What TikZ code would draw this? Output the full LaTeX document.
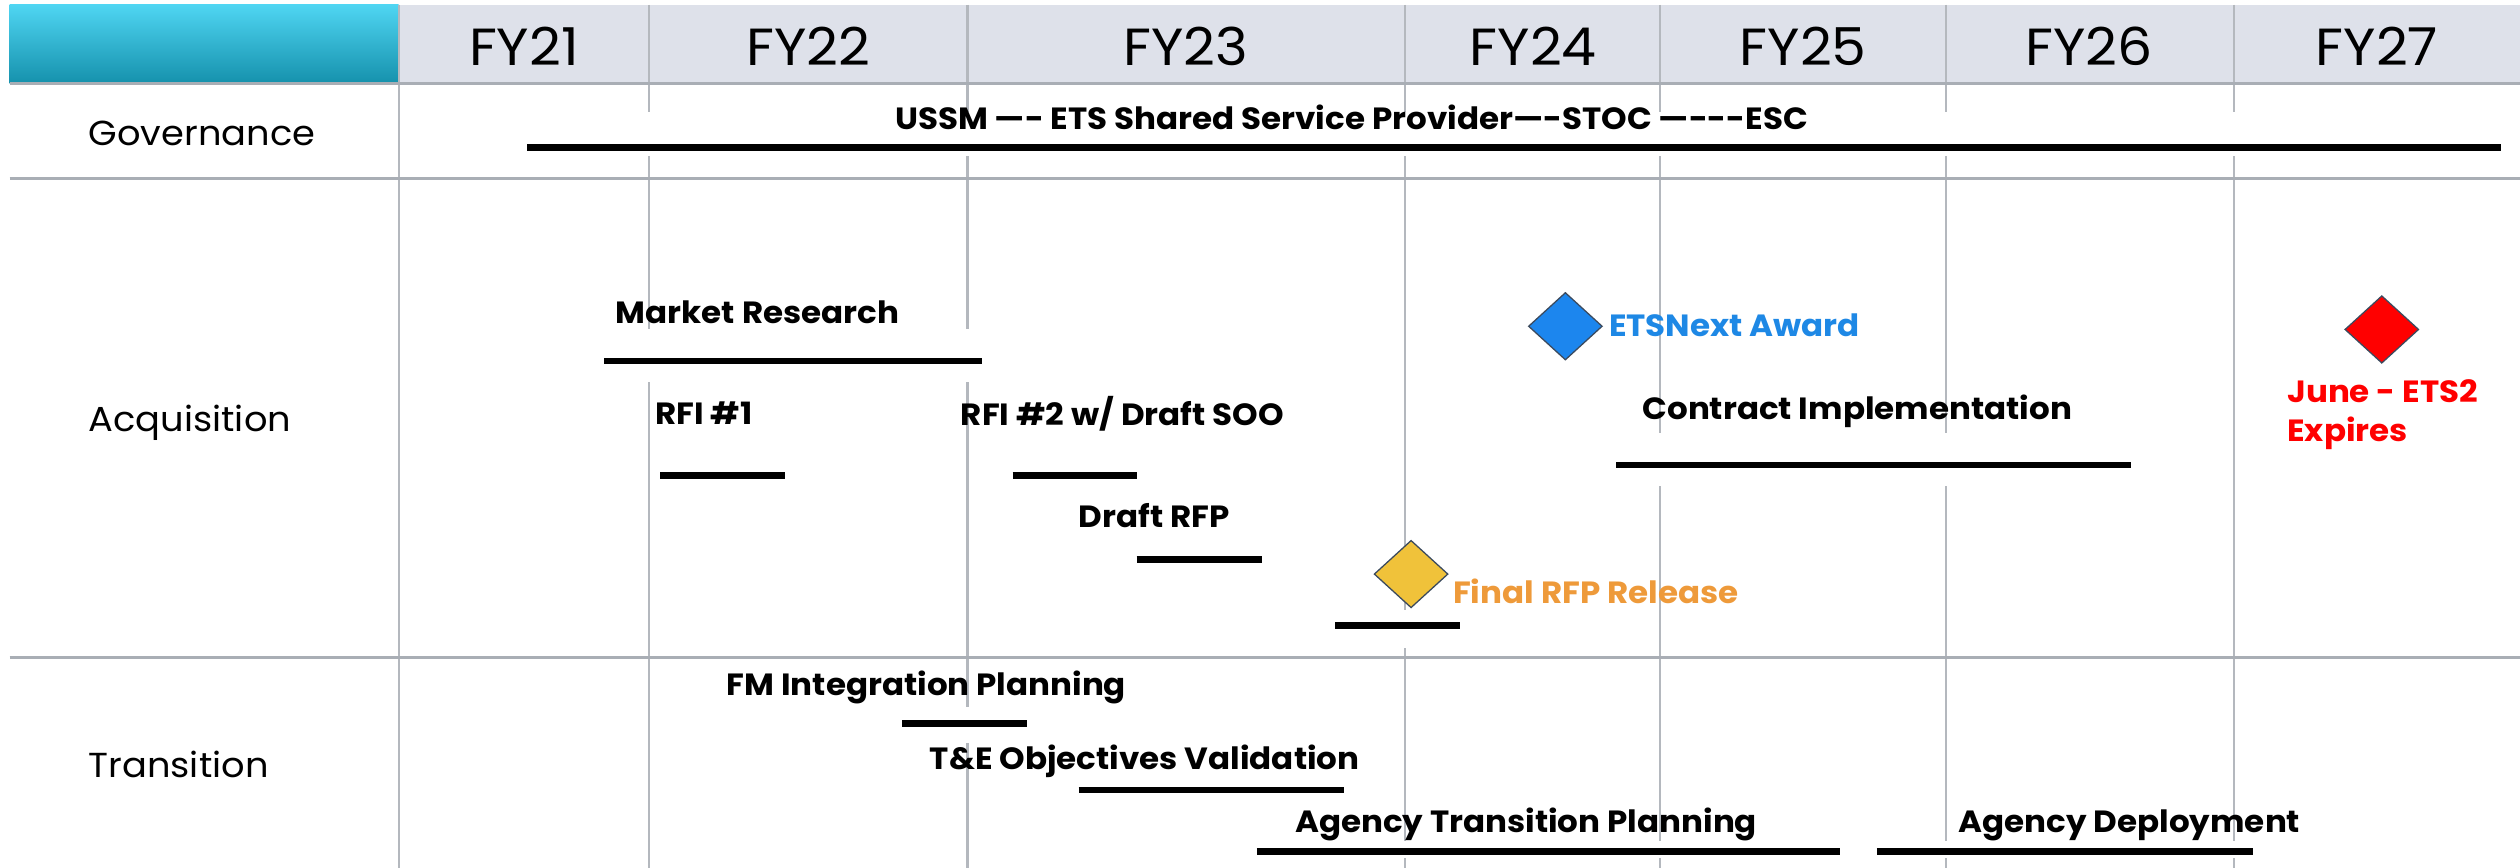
\documentclass[tikz,border=0pt]{standalone}
\usepackage{fontspec}
\setmainfont{Poppins}[FakeStretch=1.06]
\usetikzlibrary{shapes.geometric}
\definecolor{hdrgray}{HTML}{DEE1EA}
\definecolor{cyantop}{HTML}{4FD5F2}
\definecolor{cyanbot}{HTML}{1591AC}
\definecolor{gridc}{HTML}{B4B8BE}
\definecolor{sepc}{HTML}{A9AEB5}
\definecolor{awardblue}{HTML}{1E88E5}
\definecolor{diablue}{HTML}{1C86EE}
\definecolor{rfpyellow}{HTML}{F0C23A}
\definecolor{rfporange}{HTML}{EE9A3A}
\definecolor{expred}{HTML}{FF0000}
\definecolor{diaedge}{HTML}{3B4A5E}
\newcommand\ganttbar[6]{%
  \fill[white] (#2,#4-#5) rectangle (#3,#4+#6);
  \coordinate (#1-s) at (#2,#4);
  \coordinate (#1-e) at (#3,#4);
  \draw[barline] (#1-s) -- (#1-e);}
\begin{document}
\begin{tikzpicture}[x=1pt,y=-1pt,
  barline/.style={line width=4.2pt, black},
  gridline/.style={draw=gridc, line width=1.3pt},
  sepline/.style={draw=sepc, line width=2.2pt},
  fylbl/.style={anchor=base, inner sep=0, font=\fontsize{32.5}{38}\selectfont},
  rowlbl/.style={anchor=base west, inner sep=0, font=\fontsize{21.6}{26}\selectfont},
  lbl/.style={anchor=base west, inner sep=0, font=\bfseries\fontsize{19.1}{23}\selectfont},
  mstone/.style={diamond, draw=diaedge, line width=0.8pt, minimum width=46pt, minimum height=42pt, inner sep=0pt}]
\useasboundingbox (0,0) rectangle (1568,540);
\fill[white] (0,0) rectangle (1568,540);
% header
\fill[hdrgray] (248,3) rectangle (1568,52);
\shade[top color=cyantop, bottom color=cyanbot] (6,3) rectangle (248,52);
% vertical grid lines
\foreach \gx in {404,602,874,1033,1211,1390} {\draw[gridline] (\gx,3) -- (\gx,540);}
\draw[gridline] (248,3) -- (248,540);
% separators
\draw[sepline] (6,52) -- (1568,52);
\draw[sepline] (6,111) -- (1568,111);
\draw[sepline] (6,409) -- (1568,409);
% FY labels
\node[fylbl] (fy21) at (326,41) {FY21};
\node[fylbl] (fy22) at (503,41) {FY22};
\node[fylbl] (fy23) at (738,41) {FY23};
\node[fylbl] (fy24) at (954,41) {FY24};
\node[fylbl] (fy25) at (1122,41) {FY25};
\node[fylbl] (fy26) at (1300,41) {FY26};
\node[fylbl] (fy27) at (1479,41) {FY27};
% row labels
\node[rowlbl] (gov) at (55,90.5) {Governance};
\node[rowlbl] (acq) at (55,268.5) {Acquisition};
\node[rowlbl] (tra) at (55,483.5) {Transition};
% bars
\ganttbar{govbar}{328}{1556}{92}{22}{5}
\ganttbar{mr}{376}{611}{224.6}{20}{13}
\ganttbar{rfia}{410.7}{488.5}{296}{10}{12}
\ganttbar{rfib}{630}{707.6}{296}{10}{12}
\ganttbar{drfp}{707.3}{785}{348}{10}{12}
\ganttbar{frfp}{830.7}{908.2}{389.3}{10}{14}
\ganttbar{ci}{1005.6}{1326}{289.4}{20}{13}
\ganttbar{fm}{561.4}{639}{450}{10}{12}
\ganttbar{te}{671.2}{836.3}{491.6}{10}{12}
\ganttbar{atp}{782}{1145}{530}{7}{4}
\ganttbar{ad}{1167.8}{1402}{530}{7}{4}
% texts
\node[lbl, anchor=base] (govtxt) at (841,80.5) {USSM —- ETS Shared Service Provider—-STOC —-{}-{}-ESC};
\node[lbl] (mrt) at (383,201.5) {Market Research};
\node[lbl] (rfiat) at (407.6,264) {RFI \#1};
\node[lbl] (rfibt) at (597.7,264.5) {RFI \#2 w/ Draft SOO};
\node[lbl] (drfpt) at (671,328.2) {Draft RFP};
\node[lbl, text=rfporange] (frfpt) at (904,375.3) {Final RFP Release};
\node[lbl, text=awardblue] (awt) at (1001,209.5) {ETSNext Award};
\node[lbl] (cit) at (1021.8,261) {Contract Implementation};
\node[lbl, text=expred] (expa) at (1423,250.5) {June - ETS2};
\node[lbl, text=expred] (expb) at (1423,274.5) {Expires};
\node[lbl] (fmt) at (452,432.5) {FM Integration Planning};
\node[lbl] (tet) at (578.4,479) {T\&E Objectives Validation};
\node[lbl] (atpt) at (805.6,518) {Agency Transition Planning};
\node[lbl] (adt) at (1218.5,518) {Agency Deployment};
% milestones
\node[mstone, fill=rfpyellow] (yd) at (878,357.2) {};
\node[mstone, fill=diablue] (bd) at (974,203) {};
\node[mstone, fill=expred] (rd) at (1482,205) {};
\end{tikzpicture}
\end{document}
